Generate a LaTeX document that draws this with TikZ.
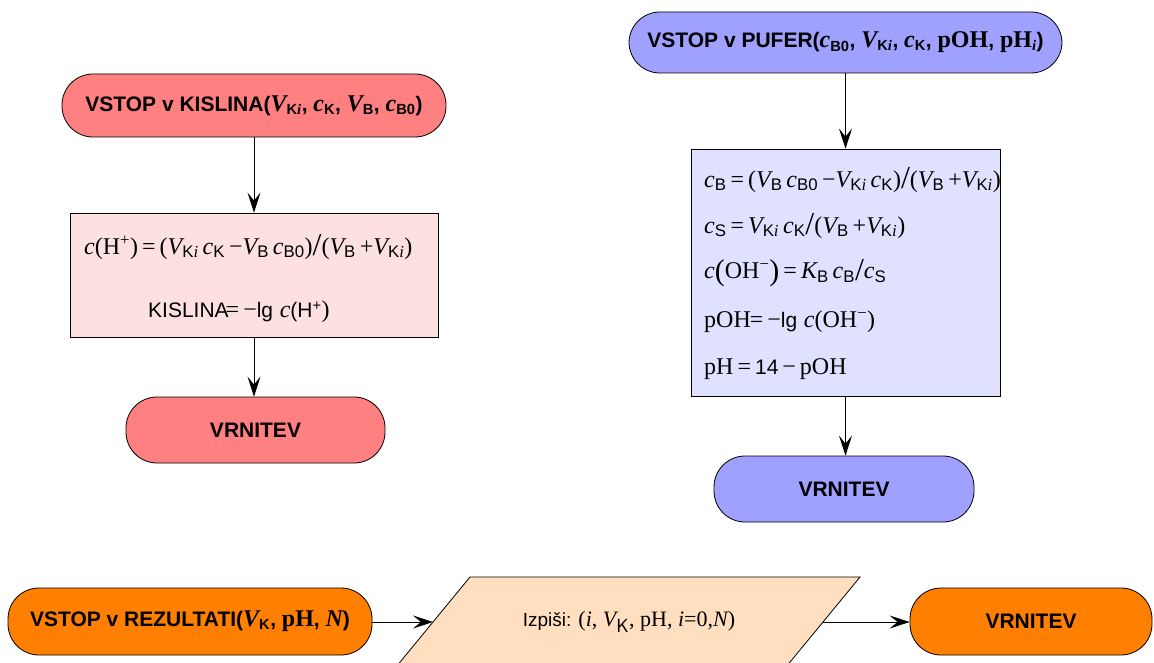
\documentclass[tikz,border=0pt]{standalone}
\usepackage{fontspec}
\setmainfont{Liberation Sans}
\newfontfamily\tms{Liberation Serif}
\usetikzlibrary{arrows.meta,shapes.geometric}
\newcommand\I[1]{{\tms\itshape #1}}
\newcommand\R[1]{{\tms #1}}
\newcommand\sub[1]{\textsubscript{#1}}
\newcommand\bsub[1]{\textsubscript{\bfseries #1}}
\newcommand\TI[1]{{\tms\itshape\fontsize{24}{28}\selectfont #1}}
\newcommand\TR[1]{{\tms\fontsize{24}{28}\selectfont #1}}
\newcommand\SF[1]{{\fontsize{21}{24}\selectfont #1}}
\newcommand\tallsl{{\tms\fontsize{32}{32}\selectfont\raisebox{-1.5pt}{/}}}
\newcommand\bigp[1]{{\tms\fontsize{30}{30}\selectfont\raisebox{-1.5pt}{#1}}}
\definecolor{salmon}{HTML}{FF8080}
\definecolor{pinkbox}{HTML}{FDE0E0}
\definecolor{bluet}{HTML}{A0A0FF}
\definecolor{bluebox}{HTML}{E0E0FF}
\definecolor{orng}{HTML}{FF8000}
\definecolor{peach}{HTML}{FFDFBF}
\begin{document}
\begin{tikzpicture}[x=1pt,y=-1pt,
  term/.style={draw=black,line width=0.8pt,rounded corners=31pt,inner sep=0pt,font=\bfseries\fontsize{21}{24}\selectfont},
  procbox/.style={draw=black,line width=0.8pt,inner sep=0pt},
  txt/.style={inner sep=0pt,anchor=west,font=\fontsize{24}{28}\selectfont},
  arr/.style={line width=0.8pt,-{Stealth[length=20pt,width=13pt,inset=8pt]}}]
\useasboundingbox (0,0) rectangle (1154,663);
\clip (0,0) rectangle (1154,663);
% left column
\node[term,fill=salmon,minimum width=384pt,minimum height=63pt] (k1) at (254,105.5)
  {VSTOP v KISLINA(\TI{V}\bsub{K\I{i}}, \TI{c}\bsub{K}, \TI{V}\bsub{B}, \TI{c}\bsub{B0})};
\node[procbox,fill=pinkbox,minimum width=368pt,minimum height=124pt] (k2) at (254,275) {};
\node[txt] (k2a) at (84,247) {\I{c}\R{(H\textsuperscript{+})\,=\,(}\I{V}\sub{K\I{i}}\,\I{c}\sub{K}\,\R{−}\I{V}\sub{B}\,\I{c}\sub{B0}\R{)}\tallsl\R{(}\I{V}\sub{B}\,\R{+}\I{V}\sub{K\I{i}}\R{)}};
\node[txt] (k2b) at (148,312) {\SF{KISLINA}\kern-3pt\R{=}\,\R{−}\SF{lg} \I{c}\SF{(H\textsuperscript{+}}\R{)}};
\node[term,fill=salmon,minimum width=259pt,minimum height=66pt] (k3) at (255.5,430) {VRNITEV};
\draw[arr] (k1) -- (k2);
\draw[arr] (k2) -- (k2.south |- k3.north);
% right column
\node[term,fill=bluet,minimum width=433pt,minimum height=61pt] (p1) at (845.5,42.5)
  {VSTOP v PUFER(\TI{c}\bsub{B0}, \TI{V}\bsub{K\I{i}}, \TI{c}\bsub{K}, \TR{pOH}, \TR{pH}\bsub{\I{i}})};
\node[procbox,fill=bluebox,minimum width=309pt,minimum height=247pt] (p2) at (845.5,272.5) {};
\node[txt] (p2a) at (704,180) {\I{c}\sub{B}\,\R{=\,(}\I{V}\sub{B}\,\I{c}\sub{B0}\,\R{−}\I{V}\sub{K\I{i}}\,\I{c}\sub{K}\R{)}\tallsl\R{(}\I{V}\sub{B}\,\R{+}\I{V}\sub{K\I{i}}\R{)}};
\node[txt] (p2b) at (704,226) {\I{c}\sub{S}\,\R{=}\,\I{V}\sub{K\I{i}}\,\I{c}\sub{K}\tallsl\R{(}\I{V}\sub{B}\,\R{+}\I{V}\sub{K\I{i}}\R{)}};
\node[txt] (p2c) at (704,273) {\I{c}\bigp{(}\R{OH\textsuperscript{−}}\bigp{)}\,\R{=}\,\I{K}\sub{B}\,\I{c}\sub{B}\tallsl\I{c}\sub{S}};
\node[txt] (p2d) at (704,322) {\R{pOH}\kern-1pt\R{=}\,\R{−}\SF{lg} \I{c}\R{(OH\textsuperscript{−})}};
\node[txt] (p2e) at (704,369) {\R{pH}\,\R{=}\,\SF{14}\,\R{−}\,\R{pOH}};
\node[term,fill=bluet,minimum width=260pt,minimum height=66pt] (p3) at (844,489) {VRNITEV};
\draw[arr] (p1) -- (p1.south |- p2.north);
\draw[arr] (p2) -- (p2.south |- p3.north);
% bottom row
\node[term,fill=orng,minimum width=364pt,minimum height=67pt] (r1) at (190,621.5)
  {VSTOP v REZULTATI(\TI{V}\bsub{K}, \TR{pH}, \TI{N})};
\coordinate (pa) at (470,577);
\coordinate (pb) at (860,577);
\coordinate (pc) at (786,667);
\coordinate (pd) at (396,667);
\draw[fill=peach,line width=0.8pt] (pa) -- (pb) -- (pc) -- (pd) -- cycle;
\node[inner sep=0pt,font=\fontsize{19}{22}\selectfont] (r2) at (629,622)
  {Izpiši: {\tms\fontsize{22}{25}\selectfont(\I{i}, \I{V}\sub{\sffamily\fontsize{19}{20}\selectfont K}, pH, \I{i}=0,\I{N})}};
\coordinate (r2l) at (433,622);
\coordinate (r2r) at (823,622);
\node[term,fill=orng,minimum width=242pt,minimum height=67pt] (r3) at (1031,621.5) {VRNITEV};
\draw[arr] (r1.east |- r2l) -- (r2l);
\draw[arr] (r2r) -- (r3.west |- r2r);
\end{tikzpicture}
\end{document}
